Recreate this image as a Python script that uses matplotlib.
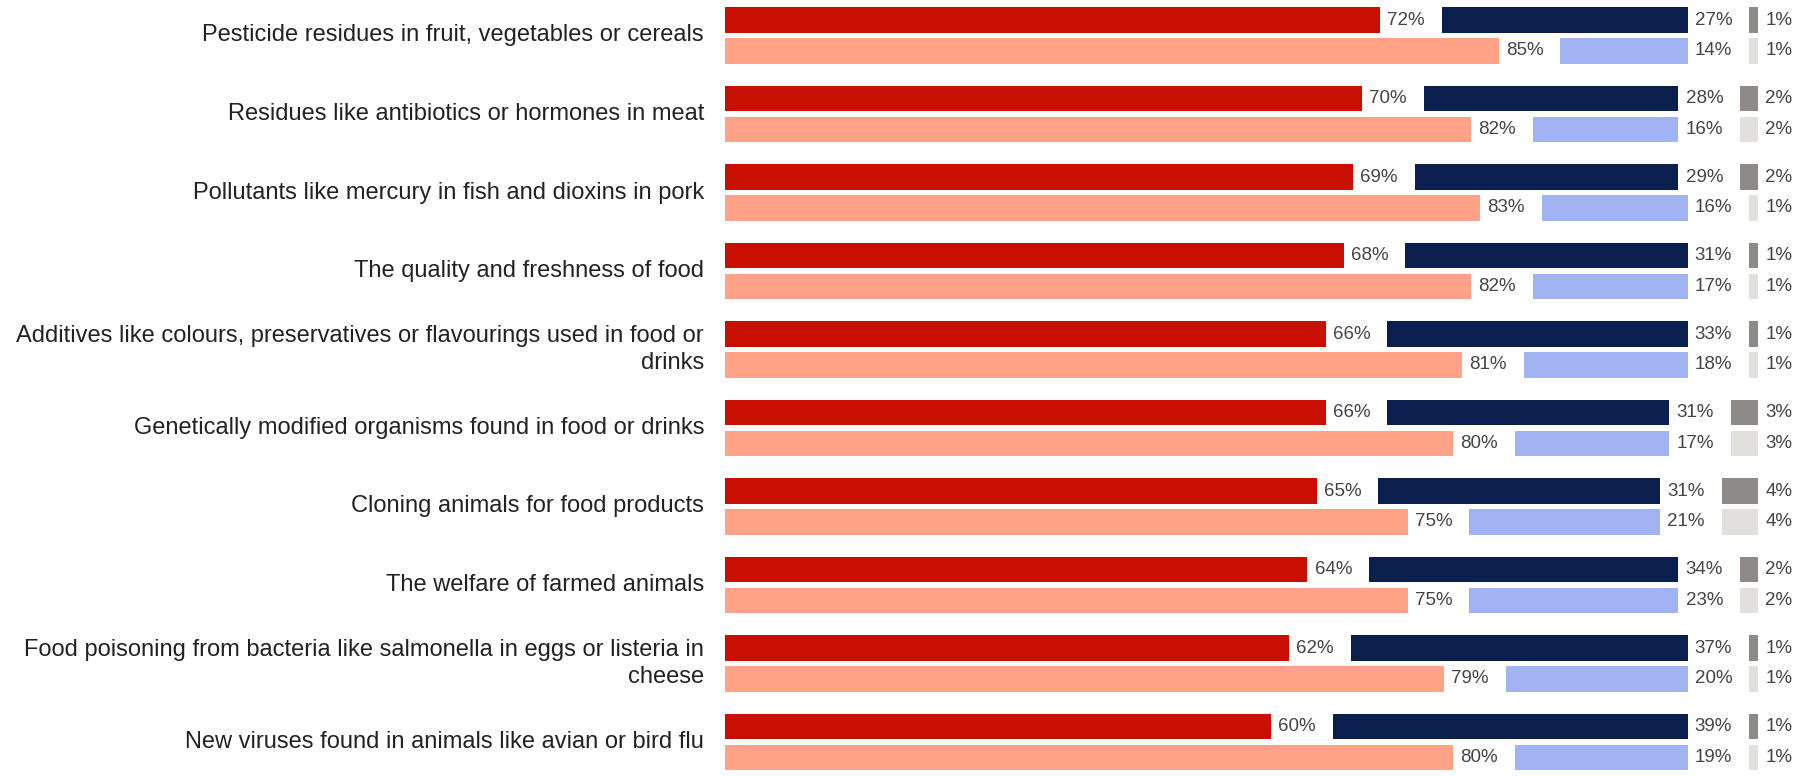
import numpy as np
import matplotlib
matplotlib.use("Agg")
import matplotlib.pyplot as plt

plt.rcParams['font.family'] = ['Liberation Sans', 'DejaVu Sans']

categories = [
    "Pesticide residues in fruit, vegetables or cereals",
    "Residues like antibiotics or hormones in meat",
    "Pollutants like mercury in fish and dioxins in pork",
    "The quality and freshness of food",
    "Additives like colours, preservatives or flavourings used in food or\ndrinks",
    "Genetically modified organisms found in food or drinks",
    "Cloning animals for food products",
    "The welfare of farmed animals",
    "Food poisoning from bacteria like salmonella in eggs or listeria in\ncheese",
    "New viruses found in animals like avian or bird flu",
]

# top row of each pair
top_a = [72, 70, 69, 68, 66, 66, 65, 64, 62, 60]
top_b = [27, 28, 29, 31, 33, 31, 31, 34, 37, 39]
top_c = [1, 2, 2, 1, 1, 3, 4, 2, 1, 1]
# bottom row of each pair
bot_a = [85, 82, 83, 82, 81, 80, 75, 75, 79, 80]
bot_b = [14, 16, 16, 17, 18, 17, 21, 23, 20, 19]
bot_c = [1, 2, 1, 1, 1, 3, 4, 2, 1, 1]

top_colors = ["#C80F00", "#0B1F4F", "#8E8A87"]
bot_colors = ["#FFA288", "#A2B3F4", "#E1E0DD"]

gap = 6.77       # space between segments, in % units
bar_h = 0.32
off = 0.197
px = 9.1         # pixels per %

fig = plt.figure(figsize=(18.07, 7.76), dpi=100)
ax = fig.add_axes([0, 0, 1, 1])
ax.set_xlim(-725 / px, (1807 - 725) / px)
ax.set_ylim(9 + 34 / 78.5, -35.5 / 78.5)
ax.axis("off")

y = np.arange(len(categories))


def draw_row(ypos, a, b, c, colors):
    left = np.zeros(len(ypos))
    for vals, col in zip([a, b, c], colors):
        vals = np.array(vals)
        ax.barh(ypos, vals, left=left, height=bar_h, color=col, linewidth=0)
        for yy, l, v in zip(ypos, left, vals):
            ax.text(l + v + 0.8, yy, f"{v}%", va="center", ha="left",
                    fontsize=13.5, color="#444444")
        left = left + vals + gap


draw_row(y - off, top_a, top_b, top_c, top_colors)
draw_row(y + off, bot_a, bot_b, bot_c, bot_colors)

for yy, cat in zip(y, categories):
    ax.text(-2.3, yy, cat, ha="right", va="center", fontsize=17,
            color="#222222", multialignment="right", linespacing=1.25)

fig.savefig("out.png", dpi=100)
